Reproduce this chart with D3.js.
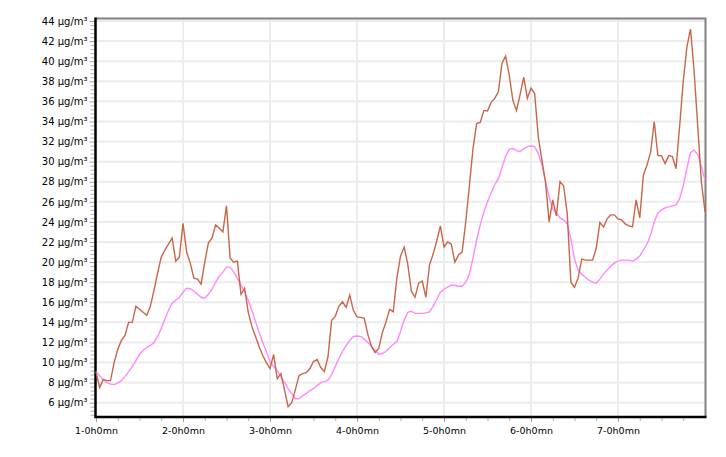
<!DOCTYPE html>
<html>
<head>
<meta charset="utf-8">
<script src="https://cdn.jsdelivr.net/npm/d3@7"></script>
<style>
  body { margin: 0; background: #fff; }
  svg text { font-family: "DejaVu Sans", sans-serif; fill: #000; }
</style>
</head>
<body>
<div id="chart"></div>
<script>
// hourly readings, hour 0 = day 1 0h0mn
const hourlyValues = [
  9.1, 7.5, 8.3, 8.2, 8.2, 10.0, 11.3, 12.2, 12.7, 14.0,
  14.0, 15.6, 15.3, 15.0, 14.7, 15.6, 17.2, 18.9, 20.5, 21.2,
  21.8, 22.4, 20.1, 20.5, 23.85, 21.0, 19.9, 18.4, 18.3, 17.8,
  20.0, 21.9, 22.4, 23.7, 23.4, 23.0, 25.6, 20.4, 20.0, 20.1,
  16.8, 17.4, 15.0, 13.6, 12.6, 11.6, 10.7, 10.0, 9.4, 10.8,
  8.4, 8.9, 7.3, 5.6, 6.0, 7.3, 8.7, 8.9, 9.0, 9.4,
  10.1, 10.3, 9.5, 9.1, 10.6, 14.2, 14.6, 15.6, 16.05, 15.5,
  16.7, 15.2, 14.55, 14.5, 14.4, 12.8, 11.6, 11.0, 11.4, 13.0,
  14.05, 15.3, 15.05, 18.4, 20.6, 21.5, 19.8, 17.1, 16.5, 17.9,
  18.1, 16.5, 19.7, 20.8, 22.1, 23.6, 21.5, 22.0, 21.8, 20.0,
  20.7, 21.0, 24.0, 27.6, 31.3, 33.8, 33.9, 35.1, 35.05, 35.9,
  36.3, 36.95, 39.8, 40.5, 38.6, 36.1, 35.1, 36.7, 38.4, 36.3,
  37.3, 36.8, 32.5, 30.15, 28.0, 24.0, 26.2, 24.6, 28.0, 27.6,
  24.8, 18.0, 17.5, 18.4, 20.3, 20.2, 20.2, 20.2, 21.4, 23.95,
  23.5, 24.3, 24.7, 24.7, 24.3, 24.2, 23.8, 23.6, 23.5, 26.2,
  24.4, 28.65, 29.65, 30.95, 34.0, 30.6, 30.6, 29.8, 30.6, 30.5,
  29.3, 33.5, 38.0, 41.4, 43.2, 39.0, 33.5, 28.0, 25.0
]

const averageValues = [
  9.1, 8.7, 8.3, 8.0, 7.85, 7.8, 7.95, 8.2, 8.6, 9.1,
  9.6, 10.2, 10.8, 11.2, 11.5, 11.7, 12.0, 12.6, 13.4, 14.3,
  15.2, 15.9, 16.2, 16.5, 17.0, 17.4, 17.35, 17.1, 16.8, 16.5,
  16.4, 16.8, 17.3, 18.0, 18.6, 19.0, 19.5, 19.5, 19.0, 18.4,
  17.7, 17.05, 16.2, 15.2, 14.1, 13.0, 12.0, 11.1, 10.1, 9.6,
  9.2, 8.6, 8.0, 7.4, 6.9, 6.4, 6.4, 6.7, 6.9, 7.2,
  7.4, 7.7, 8.0, 8.1, 8.25, 8.8, 9.6, 10.4, 11.1, 11.7,
  12.2, 12.6, 12.65, 12.6, 12.35, 12.0, 11.6, 11.2, 10.8, 10.9,
  11.1, 11.5, 11.8, 12.1, 13.1, 14.2, 15.0, 15.1, 14.9, 14.9,
  14.9, 14.95, 15.05, 15.6, 16.3, 17.0, 17.3, 17.5, 17.7, 17.7,
  17.6, 17.6, 18.0, 18.8, 20.4, 22.2, 23.7, 25.0, 26.0, 26.9,
  27.7, 28.3, 29.4, 30.5, 31.25, 31.3, 31.1, 31.0, 31.3, 31.5,
  31.55, 31.5, 30.8, 29.7, 28.0, 26.5, 25.3, 24.9, 24.4, 24.2,
  23.8, 22.3, 20.3, 19.2, 18.8, 18.5, 18.2, 18.0, 17.9, 18.3,
  18.8, 19.2, 19.6, 19.9, 20.1, 20.2, 20.2, 20.2, 20.1, 20.3,
  20.6, 21.2, 21.8, 22.7, 24.0, 24.9, 25.2, 25.4, 25.5, 25.6,
  25.7, 26.3, 27.6, 29.3, 30.9, 31.15, 30.7, 29.5, 28.2
]

const dayTickHours = [0, 24, 48, 72, 96, 120, 144]
const dayTickLabels = ['1-0h0mn', '2-0h0mn', '3-0h0mn', '4-0h0mn', '5-0h0mn', '6-0h0mn', '7-0h0mn']
const yTickValues = [6, 8, 10, 12, 14, 16, 18, 20, 22, 24, 26, 28, 30, 32, 34, 36, 38, 40, 42, 44]

const width = 726, height = 457
const plot = {left: 95.5, right: 705.5, top: 18.5, bottom: 417}

const svg = d3.select('#chart')
  .append('svg')
  .attr('width', width)
  .attr('height', height)

const x = d3.scaleLinear()
  .domain([0, 168])
  .range([96, 705])

const y = d3.scaleLinear()
  .domain([4.58, 44.25])
  .range([plot.bottom, plot.top])

// grid
svg.append('g')
  .selectAll('line')
  .data(yTickValues)
  .enter()
  .append('line')
  .attr('x1', plot.left)
  .attr('x2', plot.right)
  .attr('y1', d => y(d))
  .attr('y2', d => y(d))
  .attr('stroke', '#ececec')
  .attr('stroke-width', 2)

svg.append('g')
  .selectAll('line')
  .data(dayTickHours.slice(1))
  .enter()
  .append('line')
  .attr('x1', d => x(d))
  .attr('x2', d => x(d))
  .attr('y1', plot.top)
  .attr('y2', plot.bottom)
  .attr('stroke', '#ececec')
  .attr('stroke-width', 2)

// frame: top and right in grey
svg.append('path')
  .attr('d', `M${plot.left},${plot.top}H${plot.right}V${plot.bottom}`)
  .attr('fill', 'none')
  .attr('stroke', '#808080')
  .attr('stroke-width', 2)

// minor ticks
const yMinor = d3.range(4.8, 44.2, 0.4).filter(v => Math.abs(((v - 6) / 2) - Math.round((v - 6) / 2)) > 0.01)
svg.append('g')
  .attr('transform', `translate(${plot.left - 1},0)`)
  .call(d3.axisLeft(y).tickValues(yMinor).tickSize(4).tickFormat(''))
  .call(g => g.select('.domain').remove())
  .selectAll('line').attr('stroke', '#b4b4b4')

const xMinor = d3.range(6, 168, 6).filter(h => h % 24 !== 0)
svg.append('g')
  .attr('transform', `translate(0,${plot.bottom + 1})`)
  .call(d3.axisBottom(x).tickValues(xMinor).tickSize(3).tickFormat(''))
  .call(g => g.select('.domain').remove())
  .selectAll('line').attr('stroke', '#b4b4b4')

// major axes
const yAxis = svg.append('g')
  .attr('transform', `translate(${plot.left - 1},0)`)
  .call(d3.axisLeft(y).tickValues(yTickValues).tickSize(5).tickPadding(2)
    .tickFormat(d => d + ' µg/m³'))
yAxis.select('.domain').remove()
yAxis.selectAll('line').attr('stroke', '#a0a0a0')
yAxis.selectAll('text').style('font-size', '10px')

const xAxis = svg.append('g')
  .attr('transform', `translate(0,${plot.bottom + 1})`)
  .call(d3.axisBottom(x).tickValues(dayTickHours).tickSize(4).tickPadding(5)
    .tickFormat((d, i) => dayTickLabels[i]))
xAxis.select('.domain').remove()
xAxis.selectAll('line').attr('stroke', '#a0a0a0')
xAxis.selectAll('text').style('font-size', '9.5px')

svg.append('path')
  .attr('d', `M${plot.left},${plot.top - 1}V${plot.bottom}H${plot.right + 1}`)
  .attr('fill', 'none')
  .attr('stroke', '#000')
  .attr('stroke-width', 2.5)

// series
const line = d3.line()
  .x((d, i) => x(i))
  .y(d => y(d))

svg.append('path')
  .datum(averageValues)
  .attr('d', line)
  .attr('fill', 'none')
  .attr('stroke', '#ff88ff')
  .attr('stroke-width', 1.4)

svg.append('path')
  .datum(hourlyValues)
  .attr('d', line)
  .attr('fill', 'none')
  .attr('stroke', '#c8664a')
  .attr('stroke-width', 1.4)
</script>
</body>
</html>
